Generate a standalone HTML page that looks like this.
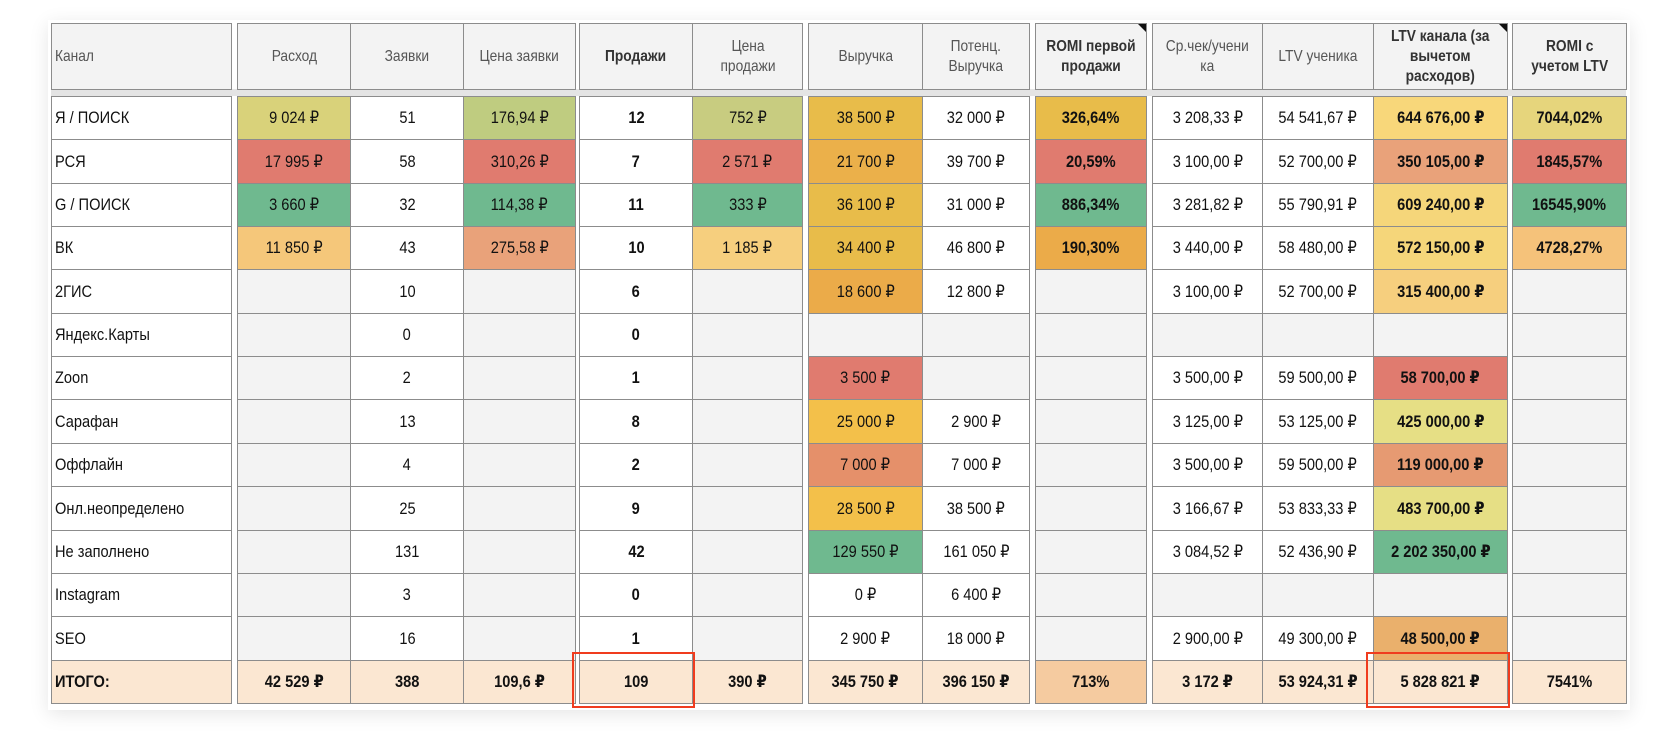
<!DOCTYPE html>
<html><head><meta charset="utf-8">
<style>
html,body{margin:0;padding:0;background:#fff;}
body{width:1680px;height:731px;position:relative;overflow:hidden;font-family:"Liberation Sans","DejaVu Sans",sans-serif;}
#shadow{position:absolute;left:48px;top:20px;width:1582px;height:690px;box-shadow:0 4px 18px rgba(0,0,0,0.10);background:#fff;}
.c{position:absolute;box-sizing:border-box;border:1px solid #8c8c8c;display:flex;align-items:center;justify-content:center;font-size:17px;color:#111;white-space:nowrap;}
.c span{display:inline-block;transform:scaleX(0.86);}
.l span{transform-origin:left center;}
.h{background:#f3f3f3;color:#555;font-size:16px;text-align:center;line-height:20px;}
.l{justify-content:flex-start;padding-left:3px;}
.b{font-weight:bold;}
.red{position:absolute;box-sizing:border-box;border:2.5px solid #f03c1e;}
.tri{position:absolute;width:0;height:0;border-left:8px solid transparent;border-top:8px solid #111;}
</style></head><body>
<div id="shadow"></div>
<div id="t"></div>
<script>
const colL=[51,237,350,463,579,692,808,922,1035,1152,1262,1373,1512];
const colR=[231,350,463,575,692,802,922,1029,1146,1262,1373,1507,1626];
const headers=["Канал","Расход","Заявки","Цена заявки","Продажи","Цена<br>продажи","Выручка","Потенц.<br>Выручка","ROMI первой<br>продажи","Ср.чек/учени<br>ка","LTV ученика","LTV канала (за<br>вычетом<br>расходов)","ROMI с<br>учетом LTV"];
const boldCols=[4,8,11,12];
const channels=["Я / ПОИСК","РСЯ","G / ПОИСК","ВК","2ГИС","Яндекс.Карты","Zoon","Сарафан","Оффлайн","Онл.неопределено","Не заполнено","Instagram","SEO"];
const spend=["9 024 ₽","17 995 ₽","3 660 ₽","11 850 ₽","","","","","","","","",""];
const leads=["51","58","32","43","10","0","2","13","4","25","131","3","16"];
const leadPrice=["176,94 ₽","310,26 ₽","114,38 ₽","275,58 ₽","","","","","","","","",""];
const sales=["12","7","11","10","6","0","1","8","2","9","42","0","1"];
const salePrice=["752 ₽","2 571 ₽","333 ₽","1 185 ₽","","","","","","","","",""];
const revenue=["38 500 ₽","21 700 ₽","36 100 ₽","34 400 ₽","18 600 ₽","","3 500 ₽","25 000 ₽","7 000 ₽","28 500 ₽","129 550 ₽","0 ₽","2 900 ₽"];
const potRevenue=["32 000 ₽","39 700 ₽","31 000 ₽","46 800 ₽","12 800 ₽","","","2 900 ₽","7 000 ₽","38 500 ₽","161 050 ₽","6 400 ₽","18 000 ₽"];
const romiFirst=["326,64%","20,59%","886,34%","190,30%","","","","","","","","",""];
const avgCheck=["3 208,33 ₽","3 100,00 ₽","3 281,82 ₽","3 440,00 ₽","3 100,00 ₽","","3 500,00 ₽","3 125,00 ₽","3 500,00 ₽","3 166,67 ₽","3 084,52 ₽","","2 900,00 ₽"];
const ltvStudent=["54 541,67 ₽","52 700,00 ₽","55 790,91 ₽","58 480,00 ₽","52 700,00 ₽","","59 500,00 ₽","53 125,00 ₽","59 500,00 ₽","53 833,33 ₽","52 436,90 ₽","","49 300,00 ₽"];
const ltvChannel=["644 676,00 ₽","350 105,00 ₽","609 240,00 ₽","572 150,00 ₽","315 400,00 ₽","","58 700,00 ₽","425 000,00 ₽","119 000,00 ₽","483 700,00 ₽","2 202 350,00 ₽","","48 500,00 ₽"];
const romiLtv=["7044,02%","1845,57%","16545,90%","4728,27%","","","","","","","","",""];
const totals=["ИТОГО:","42 529 ₽","388","109,6 ₽","109","390 ₽","345 750 ₽","396 150 ₽","713%","3 172 ₽","53 924,31 ₽","5 828 821 ₽","7541%"];
const G="#6fb98f",R="#e07b6f",Y="#f3c04a",O="#ebab49";
const colColors={
1:["#d9d27a",R,G,"#f5c77a"],
3:["#bfcc80",R,G,"#e9a27a"],
5:["#c8cc80",R,G,"#f6cf7e"],
6:["#e8bc4a","#ebb04a","#e8bc4a","#e8bc4a",O,null,R,Y,"#e5906a",Y,G,"#fff","#fff"],
8:["#e8bc4a",R,G,O],
11:["#f8d77a","#e9a27a","#f5d67a","#f5d67a","#f6cf7e",null,R,"#e6df85","#e69a72","#e6df85",G,null,"#eab06c"],
12:["#e6d57c",R,G,"#f5c27a"]
};
const cols=[channels,spend,leads,leadPrice,sales,salePrice,revenue,potRevenue,romiFirst,avgCheck,ltvStudent,ltvChannel,romiLtv];
const names=["channel","spend","leads","lead-price","sales","sale-price","revenue","potential-revenue","romi-first","avg-check","ltv-student","ltv-channel","romi-ltv"];
const t=document.getElementById('t');
const rowTop=96,rowH=43.35,hdrTop=23,hdrB=89;
function cell(x1,y1,x2,y2,cls,txt,bg){const d=document.createElement('div');d.className='c '+cls;d.style.left=x1+'px';d.style.top=y1+'px';d.style.width=(x2-x1+1)+'px';d.style.height=(y2-y1+1)+'px';if(bg)d.style.background=bg;const s=document.createElement('span');s.innerHTML=txt;d.appendChild(s);t.appendChild(d);return d;}
const band=document.createElement('div');band.style.cssText='position:absolute;left:51px;top:89px;width:1575px;height:7px;background:#e4e4e4;';


t.appendChild(band);
headers.forEach((h,i)=>{const d=cell(colL[i],hdrTop,colR[i],hdrB,'h'+(i==0?' l':'')+(boldCols.includes(i)?' b':''),h);
if(boldCols.includes(i)){d.style.color='#333';}


if(i==8||i==11){const tr=document.createElement('div');tr.className='tri';tr.style.left=(colR[i]-8)+'px';tr.style.top=(hdrTop+1)+'px';


t.appendChild(tr);}
});
channels.forEach((ch,r)=>{const y1=Math.round(rowTop+r*rowH),y2=Math.round(rowTop+(r+1)*rowH);
cols.forEach((arr,i)=>{const v=arr[r];let bg=colColors[i]&&colColors[i][r];
if(!bg){bg=(i==0||i==2||i==4||v!=='')?'#fff':'#f3f3f3';}
const d=cell(colL[i],y1,colR[i],y2,(i==0?'l':'')+(boldCols.includes(i)?' b':''),v,bg);


});});
const ty1=Math.round(rowTop+13*rowH),ty2=703;
totals.forEach((v,i)=>{const d=cell(colL[i],ty1,colR[i],ty2,'b'+(i==0?' l':''),v,i==8?'#f5cba0':'#fbe7d2');


});
function box(i,name){const b=document.createElement('div');b.className='red';b.style.left=(colL[i]-7)+'px';b.style.top=(ty1-8)+'px';b.style.width=(colR[i]-colL[i]+10)+'px';b.style.height=(ty2-ty1+13)+'px';


t.appendChild(b);}
box(4,'highlight-sales-total');box(11,'highlight-ltv-total');
</script>
</body></html>
